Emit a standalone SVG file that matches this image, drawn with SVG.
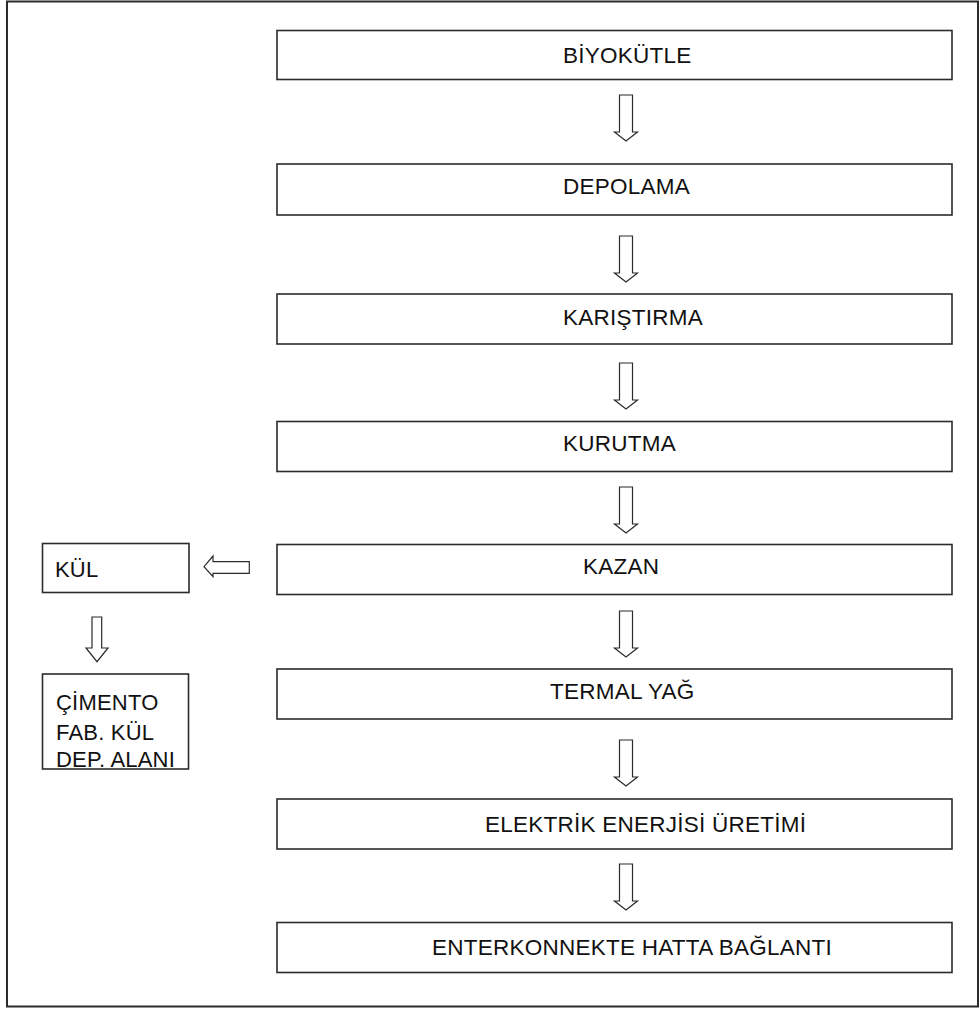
<svg xmlns="http://www.w3.org/2000/svg" width="980" height="1009" viewBox="0 0 980 1009">
<style>
.box{fill:#fff;stroke:#2b2b2b;stroke-width:1.6}
.frame{fill:none;stroke:#2b2b2b;stroke-width:2}
.arr{fill:#fff;stroke:#2b2b2b;stroke-width:1.2;stroke-linejoin:miter}
text{font-family:"Liberation Sans",Arial,sans-serif;font-size:22.5px;letter-spacing:0.25px;fill:#111}
.side{font-size:22px;letter-spacing:0.2px}
</style>
<defs>
<path id="down" d="M-6.5,0 H6.5 V37 H11.5 L0,46 L-11.5,37 H-6.5 Z"/>
</defs>
<rect x="0" y="0" width="980" height="1009" fill="#fff"/>
<rect class="frame" x="7" y="1.5" width="971" height="1005"/>
<g id="n1"><rect class="box" x="277" y="30.5" width="675" height="49"/><text x="563" y="63">BİYOKÜTLE</text></g>
<g id="n2"><rect class="box" x="277" y="164" width="675" height="51"/><text x="563" y="194">DEPOLAMA</text></g>
<g id="n3"><rect class="box" x="277" y="294" width="675" height="50"/><text x="563" y="325">KARIŞTIRMA</text></g>
<g id="n4"><rect class="box" x="277" y="421.5" width="675" height="50"/><text x="563" y="451">KURUTMA</text></g>
<g id="n5"><rect class="box" x="277" y="544.5" width="675" height="50"/><text x="583" y="574">KAZAN</text></g>
<g id="n6"><rect class="box" x="277" y="669" width="675" height="50"/><text x="550" y="699">TERMAL YAĞ</text></g>
<g id="n7"><rect class="box" x="277" y="799" width="675" height="50"/><text x="485" y="832">ELEKTRİK ENERJİSİ ÜRETİMİ</text></g>
<g id="n8"><rect class="box" x="277" y="922.5" width="675" height="50"/><text x="432" y="955">ENTERKONNEKTE HATTA BAĞLANTI</text></g>
<g id="n9"><rect class="box" x="42.5" y="543.5" width="146.5" height="49"/><text class="side" x="55" y="577">KÜL</text></g>
<g id="n10"><rect class="box" x="42.5" y="674" width="146" height="95"/><text class="side" x="56" y="710">ÇİMENTO</text><text class="side" x="56" y="740">FAB. KÜL</text><text class="side" x="56" y="766.5">DEP. ALANI</text></g>
<g id="connectors">
<use href="#down" class="arr" x="626" y="95"/>
<use href="#down" class="arr" x="626" y="236"/>
<use href="#down" class="arr" x="626" y="363"/>
<use href="#down" class="arr" x="626" y="487"/>
<use href="#down" class="arr" x="626" y="611"/>
<use href="#down" class="arr" x="626" y="740"/>
<use href="#down" class="arr" x="626" y="864"/>
<path class="arr" d="M92,617 H101.7 V648 H108 L97,661.7 L86,648 H92 Z"/>
<path class="arr" d="M249.3,561.7 V573.3 H213 V576.7 L204,566.7 L213,556 V561.7 Z"/>
</g>
</svg>
